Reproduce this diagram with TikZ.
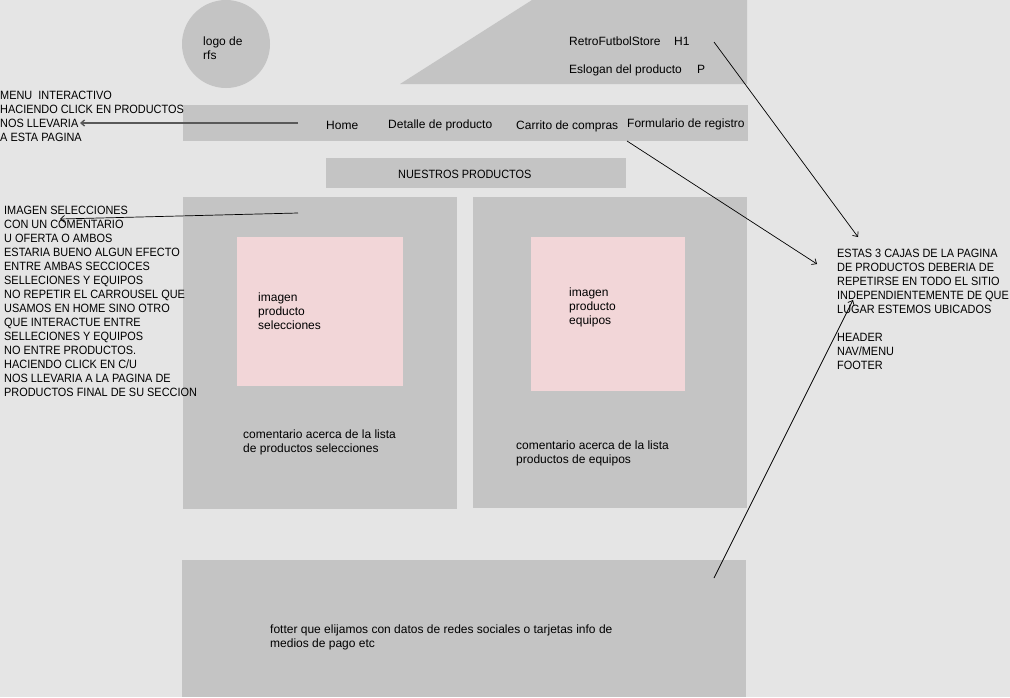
\documentclass[tikz,border=0pt]{standalone}
\usepackage{fontspec}
\setmainfont{Liberation Sans}
\newfontfamily\capsfont[FakeStretch=0.91]{Liberation Sans}
\usetikzlibrary{arrows.meta}
\definecolor{bg}{RGB}{229,229,229}
\definecolor{boxg}{RGB}{196,196,196}
\definecolor{pinkb}{RGB}{242,214,216}
\tikzset{
  x=1pt, y=-1pt,
  box/.style={fill=boxg, draw=none, anchor=north west, inner sep=0pt},
  pinkbox/.style={fill=pinkb, draw=none, anchor=north west, inner sep=0pt},
  txt/.style={anchor=north west, inner sep=0pt, align=left, font=\fontsize{12}{14}\selectfont, text=black},
  ctxt/.style={txt, font=\capsfont\fontsize{12}{14}\selectfont},
  link/.style={draw=black, line width=0.7pt, -{Straight Barb[length=4pt,width=7pt]}},
  graylink/.style={draw=black!65, line width=1.4pt, -{Straight Barb[length=3.5pt,width=6pt]}}
}
\begin{document}
\begin{tikzpicture}
\fill[bg] (0,0) rectangle (1010,697);
\useasboundingbox (0,0) rectangle (1010,697);
% header shapes
\fill[boxg] (226,44) circle (44);
\fill[boxg] (532,0) -- (747,0) -- (747,84) -- (400,84) -- cycle;
\node[box, minimum width=565, minimum height=36] (nav) at (183,105) {};
\node[box, minimum width=300, minimum height=30] (np) at (326,158) {};
\node[box, minimum width=274, minimum height=312] (lbox) at (183,197) {};
\node[box, minimum width=274, minimum height=311] (rbox) at (473,197) {};
\node[pinkbox, minimum width=166, minimum height=149] (lpink) at (237,237) {};
\node[pinkbox, minimum width=154, minimum height=154] (rpink) at (531,237) {};
\node[box, minimum width=564, minimum height=137] (foot) at (182,560) {};
% texts
\node[txt] (logo) at (203,37) {logo de\\rfs};
\node[txt] (title) at (569,37) {RetroFutbolStore};
\node[txt] (h1) at (674,37) {H1};
\node[txt] (slogan) at (569,65) {Eslogan del producto};
\node[txt] (p) at (697,65) {P};
\node[txt] (home) at (326,121) {Home};
\node[txt] (det) at (388,120) {Detalle de producto};
\node[txt] (car) at (516,121) {Carrito de compras};
\node[txt] (form) at (627,119) {Formulario de registro};
\node[ctxt] (npt) at (398,170) {NUESTROS PRODUCTOS};
\node[ctxt] (menu) at (0,91) {MENU\ \ INTERACTIVO\\HACIENDO CLICK EN PRODUCTOS\\NOS LLEVARIA\\A ESTA PAGINA};
\node[ctxt] (imgsel) at (4,206) {IMAGEN SELECCIONES\\CON UN COMENTARIO\\U OFERTA O AMBOS\\ESTARIA BUENO ALGUN EFECTO\\ENTRE AMBAS SECCIOCES\\SELLECIONES Y EQUIPOS\\NO REPETIR EL CARROUSEL QUE\\USAMOS EN HOME SINO OTRO\\QUE INTERACTUE ENTRE\\SELLECIONES Y EQUIPOS\\NO ENTRE PRODUCTOS.\\HACIENDO CLICK EN C/U\\NOS LLEVARIA A LA PAGINA DE\\PRODUCTOS FINAL DE SU SECCION};
\node[txt] (ps) at (258,293) {imagen\\producto\\selecciones};
\node[txt] (pe) at (569,288) {imagen\\producto\\equipos};
\node[txt] (cs) at (243,430) {comentario acerca de la lista\\de productos selecciones};
\node[txt] (ce) at (516,441) {comentario acerca de la lista\\productos de equipos};
\node[ctxt] (note) at (837,249) {ESTAS 3 CAJAS DE LA PAGINA\\DE PRODUCTOS DEBERIA DE\\REPETIRSE EN TODO EL SITIO\\INDEPENDIENTEMENTE DE QUE\\LUGAR ESTEMOS UBICADOS\\[14pt]HEADER\\NAV/MENU\\FOOTER};
\node[txt] (ft) at (270,625) {fotter que elijamos con datos de redes sociales o tarjetas info de\\medios de pago etc};
% connectors
\coordinate (a1s) at (298,123);
\coordinate (a1e) at (80,123);
\coordinate (a2s) at (298,213);
\coordinate (a2e) at (60,219);
\coordinate (a3s) at (714,42);
\coordinate (a3e) at (858,237);
\coordinate (a4s) at (627,141);
\coordinate (a4e) at (817,264);
\coordinate (a5s) at (714,578);
\coordinate (a5e) at (853,300);
\draw[graylink] (a1s) -- (a1e);
\draw[link] (a2s) -- (a2e);
\draw[link] (a3s) -- (a3e);
\draw[link] (a4s) -- (a4e);
\draw[link] (a5s) -- (a5e);
\end{tikzpicture}
\end{document}
